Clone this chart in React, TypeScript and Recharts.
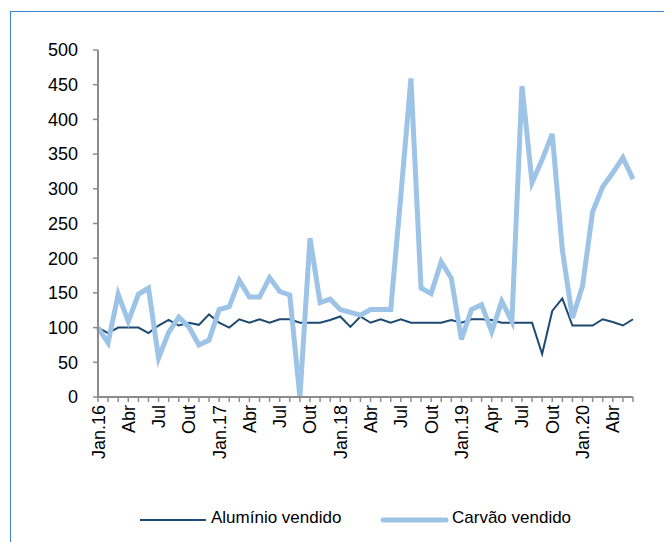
import React from 'react';
import { LineChart, Line, XAxis, YAxis, Legend } from 'recharts';

const categories = [
  'Jan.16', 'Fev.16', 'Mar.16', 'Abr.16', 'Mai.16', 'Jun.16', 'Jul.16', 'Ago.16', 'Set.16', 'Out.16', 'Nov.16', 'Dez.16',
  'Jan.17', 'Fev.17', 'Mar.17', 'Abr.17', 'Mai.17', 'Jun.17', 'Jul.17', 'Ago.17', 'Set.17', 'Out.17', 'Nov.17', 'Dez.17',
  'Jan.18', 'Fev.18', 'Mar.18', 'Abr.18', 'Mai.18', 'Jun.18', 'Jul.18', 'Ago.18', 'Set.18', 'Out.18', 'Nov.18', 'Dez.18',
  'Jan.19', 'Fev.19', 'Mar.19', 'Abr.19', 'Mai.19', 'Jun.19', 'Jul.19', 'Ago.19', 'Set.19', 'Out.19', 'Nov.19', 'Dez.19',
  'Jan.20', 'Fev.20', 'Mar.20', 'Abr.20', 'Mai.20', 'Jun.20',
];

// shown every third month
const tickLabels = [
  'Jan.16', 'Abr', 'Jul', 'Out',
  'Jan.17', 'Abr', 'Jul', 'Out',
  'Jan.18', 'Abr', 'Jul', 'Out',
  'Jan.19', 'Apr', 'Jul', 'Out',
  'Jan.20', 'Abr',
];

const aluminio = [
  100, 92, 100, 100, 100, 92, 103, 111, 103, 107, 104, 119,
  107, 100, 112, 107, 112, 107, 112, 112, 107, 107, 107, 111,
  116, 101, 116, 107, 112, 107, 112, 107, 107, 107, 107, 111,
  107, 112, 112, 111, 107, 107, 107, 107, 62, 124, 142, 103,
  103, 103, 112, 108, 103, 112,
];

const carvao = [
  100, 78, 148, 109, 148, 157, 56, 93, 115, 101, 75, 82,
  126, 130, 168, 144, 144, 172, 152, 147, 0, 229, 136, 141,
  126, 122, 118, 126, 126, 126, 290, 459, 157, 149, 195, 171,
  83, 126, 133, 94, 138, 109, 448, 309, 342, 379, 212, 114,
  160, 267, 303, 323, 345, 314,
];

const yTicks = [0, 50, 100, 150, 200, 250, 300, 350, 400, 450, 500];

const data = categories.map((month, i) => ({
  month,
  aluminio: aluminio[i],
  carvao: carvao[i],
}));

const FONT = '"Liberation Sans", Arial, sans-serif';
const AXIS = '#8c8c8c';
const DARK = '#1d4a72';
const LIGHT = '#9dc3e6';

const MonthTick = (props: any) => {
  const { x, y, payload } = props;
  const i = payload.index;
  if (i % 3 !== 0) return null;
  return (
    <text
      x={x}
      y={y}
      transform={`rotate(-90, ${x}, ${y})`}
      dx={-1}
      dy={6.5}
      textAnchor="end"
      fontSize={18}
      fontFamily={FONT}
      fill="#000"
    >
      {tickLabels[i / 3]}
    </text>
  );
};

const renderLegend = () => (
  <div style={{ position: 'relative', height: 30, fontFamily: FONT, fontSize: 17, color: '#000' }}>
    <svg width={70} height={10} style={{ position: 'absolute', left: 140, top: 10 }}>
      <line x1={0} y1={5} x2={66} y2={5} stroke={DARK} strokeWidth={2} />
    </svg>
    <span style={{ position: 'absolute', left: 211, top: 3 }}>Alumínio vendido</span>
    <svg width={70} height={10} style={{ position: 'absolute', left: 380, top: 10 }}>
      <line x1={3} y1={5} x2={66} y2={5} stroke={LIGHT} strokeWidth={5} strokeLinecap="round" />
    </svg>
    <span style={{ position: 'absolute', left: 452, top: 3 }}>Carvão vendido</span>
  </div>
);

export default function App() {
  return (
    <div style={{ position: 'absolute', left: 0, top: 0, width: 664, height: 542, background: '#fff' }}>
      <div
        style={{
          position: 'absolute',
          left: 10,
          top: 11,
          width: 660,
          height: 540,
          borderLeft: '1px solid #3b86cf',
          borderTop: '1px solid #3b86cf',
        }}
      />
      <LineChart
        width={664}
        height={542}
        data={data}
        margin={{ top: 50, right: 31, left: 0, bottom: 30 }}
        style={{ position: 'absolute', left: 0, top: 0 }}
      >
        <XAxis
          dataKey="month"
          interval={0}
          tick={<MonthTick />}
          tickSize={5}
          height={85}
          axisLine={{ stroke: AXIS, strokeWidth: 2 }}
          tickLine={{ stroke: AXIS, strokeWidth: 1.5 }}
        />
        <YAxis
          domain={[0, 500]}
          ticks={yTicks}
          interval={0}
          width={98}
          tickSize={5}
          tickMargin={15}
          axisLine={{ stroke: AXIS, strokeWidth: 2 }}
          tickLine={{ stroke: AXIS, strokeWidth: 1.5 }}
          tick={{ fontSize: 18, fontFamily: FONT, fill: '#000' }}
        />
        <Legend
          content={renderLegend}
          wrapperStyle={{ position: 'absolute', left: 0, top: 505, width: 664 }}
        />
        <Line
          type="linear"
          dataKey="aluminio"
          name="Alumínio vendido"
          stroke={DARK}
          strokeWidth={2}
          dot={false}
          isAnimationActive={false}
        />
        <Line
          type="linear"
          dataKey="carvao"
          name="Carvão vendido"
          stroke={LIGHT}
          strokeWidth={5}
          dot={false}
          isAnimationActive={false}
        />
      </LineChart>
    </div>
  );
}
